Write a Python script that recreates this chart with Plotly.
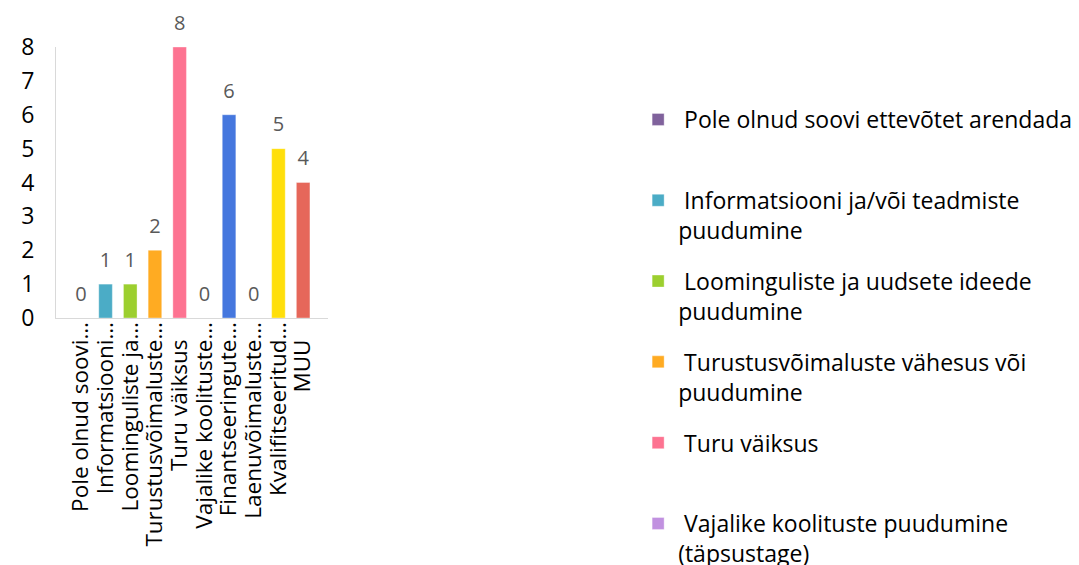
import plotly.graph_objects as go

categories = [
    "Pole olnud soovi ettevõtet arendada",
    "Informatsiooni ja/või teadmiste puudumine",
    "Loominguliste ja uudsete ideede puudumine",
    "Turustusvõimaluste vähesus või puudumine",
    "Turu väiksus",
    "Vajalike koolituste puudumine (täpsustage)",
    "Finantseeringute puudumine",
    "Laenuvõimaluste puudumine",
    "Kvalifitseeritud tööjõu puudumine",
    "MUU",
]
tick_labels = [
    "Pole olnud soovi…",
    "Informatsiooni…",
    "Loominguliste ja…",
    "Turustusvõimaluste…",
    "Turu väiksus&nbsp;&nbsp;&nbsp;",
    "Vajalike koolituste…",
    "Finantseeringute…",
    "Laenuvõimaluste…",
    "Kvalifitseeritud…",
    "MUU&nbsp;&nbsp;&nbsp;",
]
legend_labels = [
    " Pole olnud soovi ettevõtet arendada<br> ",
    " Informatsiooni ja/või teadmiste<br>puudumine",
    " Loominguliste ja uudsete ideede<br>puudumine",
    " Turustusvõimaluste vähesus või<br>puudumine",
    " Turu väiksus<br> ",
    " Vajalike koolituste puudumine<br>(täpsustage)",
    " Finantseeringute puudumine",
    " Laenuvõimaluste puudumine",
    " Kvalifitseeritud tööjõu puudumine",
    " MUU",
]
values = [0, 1, 1, 2, 8, 0, 6, 0, 5, 4]
colors = ["#80629c", "#4bacc6", "#9ccf2f", "#ffab22", "#fd7391",
          "#c191e0", "#4577de", "#8a8a8a", "#ffdf0b", "#e6675a"]
legend_visible = [True, True, True, True, True, True, False, False, False, False]

FONT = "Open Sans"
fig = go.Figure()
for i, cat in enumerate(categories):
    fig.add_trace(go.Bar(
        x=[cat], y=[values[i]], name=legend_labels[i],
        marker=dict(color=colors[i], line=dict(color="rgba(255,255,255,0.35)", width=1)),
        width=0.55,
        legendgroup=f"g{i}",
        showlegend=legend_visible[i],
        hovertemplate="%{x}: %{y}<extra></extra>",
    ))

# value labels
fig.add_trace(go.Scatter(
    x=categories, y=values, mode="markers+text",
    text=[str(v) for v in values], textposition="top center",
    textfont=dict(color="#595959", size=20, family=FONT),
    marker=dict(size=18, color="rgba(0,0,0,0)"),
    cliponaxis=False, showlegend=False, hoverinfo="skip",
))

fig.update_layout(
    width=1079, height=565,
    margin=dict(l=48, r=759, t=39, b=255),
    plot_bgcolor="white", paper_bgcolor="white",
    barmode="overlay",
    font=dict(family=FONT, color="black"),
    legend=dict(
        xref="container", yref="container",
        x=0.584, y=1 - 90 / 565, xanchor="left", yanchor="top",
        font=dict(size=23, family=FONT, color="black"),
        valign="top", tracegroupgap=18,
        itemclick=False, maxheight=560,
    ),
    xaxis=dict(
        categoryorder="array", categoryarray=categories,
        tickmode="array", tickvals=categories, ticktext=tick_labels,
        tickangle=-90, tickfont=dict(size=22.5, family=FONT, color="black"),
        showline=True, linecolor="#d9d9d9", linewidth=1,
        ticks="", ticklen=0, showgrid=False, automargin=False,
        ticklabelstandoff=-6,
    ),
    yaxis=dict(
        range=[0, 8], dtick=1,
        tickfont=dict(size=23, family=FONT, color="black"),
        showline=True, linecolor="#d9d9d9", linewidth=1,
        showgrid=False, zeroline=False, ticks="", ticklen=0,
        ticklabelstandoff=16, automargin=False,
    ),
)

fig.write_html("out.html")
